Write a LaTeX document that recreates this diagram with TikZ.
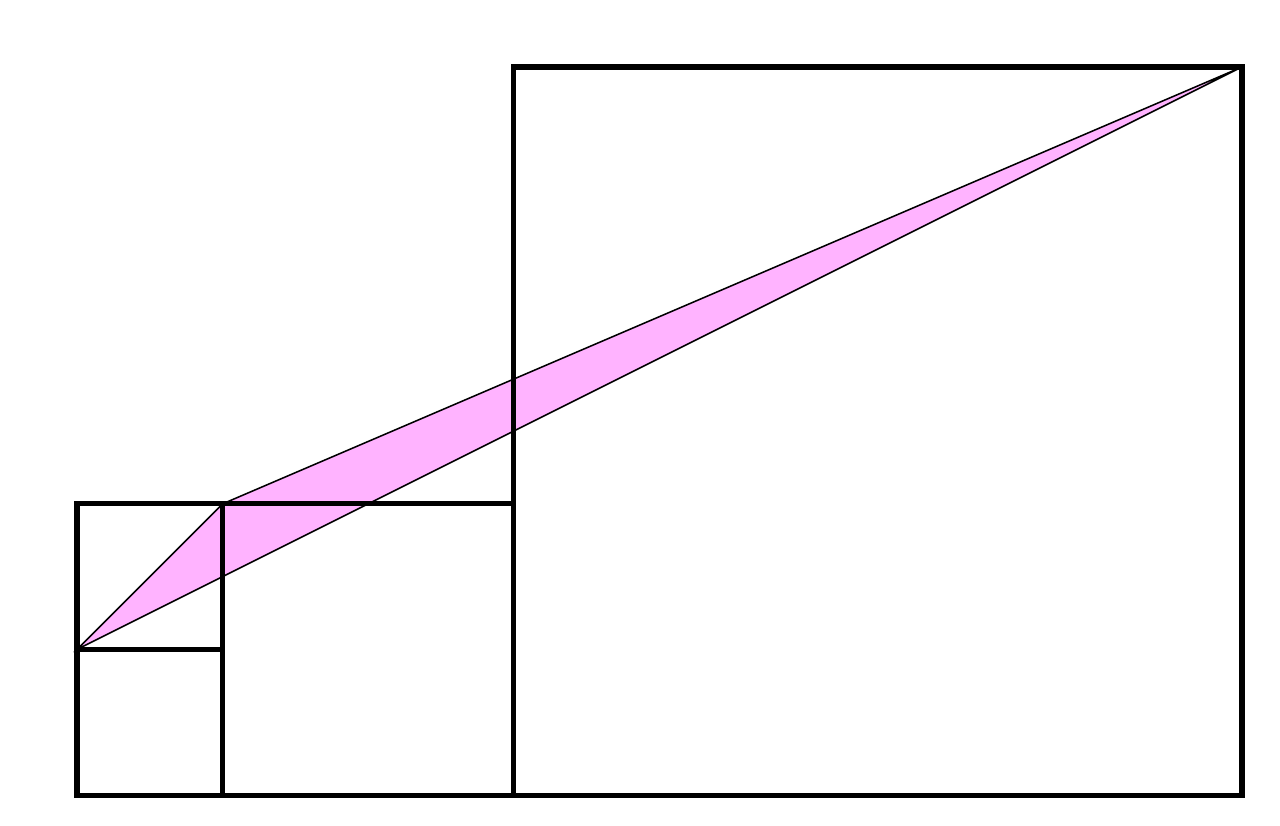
\documentclass[tikz,border=0pt]{standalone}
\definecolor{fanpink}{RGB}{255,179,255}
\begin{document}
\begin{tikzpicture}[x=1cm, y=1cm]
% Bounding box with margins
\useasboundingbox (-0.529,-0.206) rectangle (8.261,5.460);

% Triangle
\coordinate (A) at (0,1);
\coordinate (B) at (1,2);
\coordinate (C) at (8,5);
\filldraw[fill=fanpink, draw=black, line width=0.3pt] (A) -- (B) -- (C) -- cycle;

% Squares: corner and side
\foreach \x/\y/\s in {0/0/1, 0/1/1, 1/0/2, 3/0/5}
{
	\draw[line width=1pt] (\x,\y) rectangle ++(\s,\s);
}
\end{tikzpicture}
\end{document}
